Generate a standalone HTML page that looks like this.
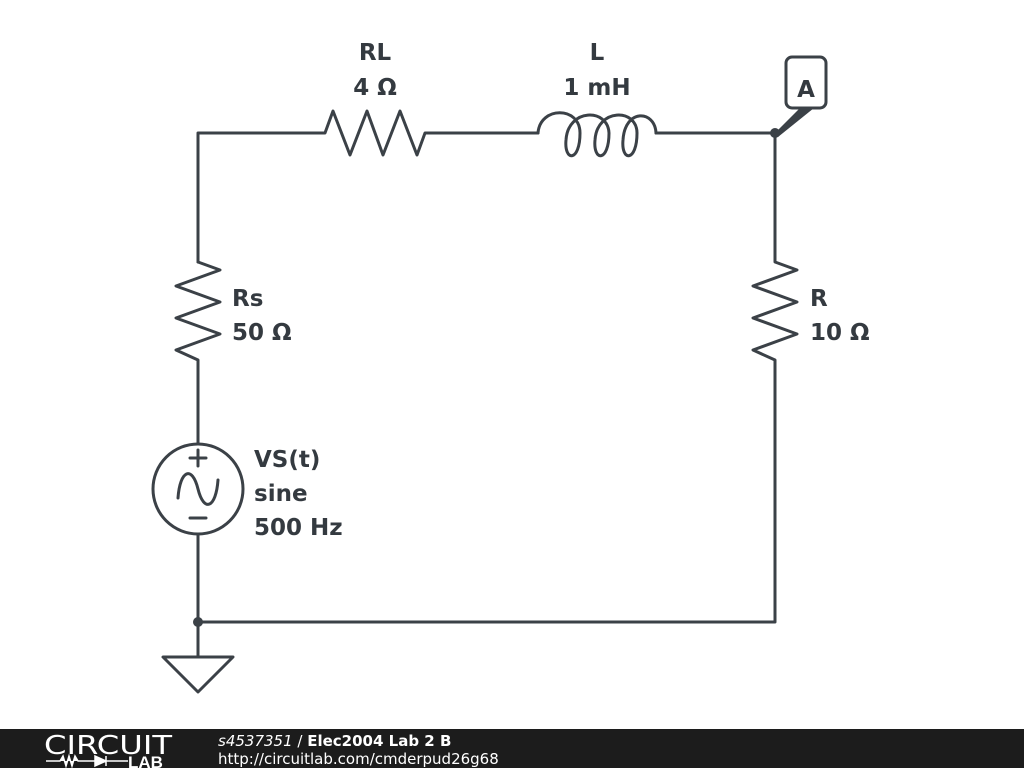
<!DOCTYPE html>
<html><head><meta charset="utf-8"><style>
html,body{margin:0;padding:0;background:#fff;width:1024px;height:768px;overflow:hidden}
svg{display:block}
</style></head><body>
<svg width="1024" height="768" viewBox="0 0 1024 768" xmlns="http://www.w3.org/2000/svg">
<rect width="1024" height="768" fill="#fff"/>
<g fill="none" stroke="#3b4147" stroke-width="3" stroke-linejoin="round" stroke-linecap="round">
<path d="M198,262 V133 H325 L333,111 L350,155 L367,111 L383,155 L400,111 L417,155 L425,133 H538"/>
<path d="M538,133 C540,106 580,106 580,133 C580,162 564,162 566,140 C568,108 608,108 609,133 C609,162 593,162 595,140 C597,108 637,108 637,133 C637,162 621,162 623,140 C625,108 655,110 656,133"/>
<path d="M656,133 H775 V262 L797,270 L753,286 L797,302 L753,318 L797,334 L753,350 L775,360 V622 H198"/>
<path d="M198,262 L220,270 L176,286 L220,302 L176,318 L220,334 L176,350 L198,360 V444"/>
<circle cx="198" cy="489" r="45"/>
<path d="M198,534 V657"/>
<path d="M163,657 H233 L198,692 Z"/>
<path d="M190,458 H206 M198,450 V466 M190,518 H206"/>
<path d="M178,498 C180,470 192,465 198,489 C204,513 216,508 218,480"/>
<rect x="786" y="57" width="40" height="51" rx="6"/>
</g>
<path d="M775,133 L800,108 L814,108 L778,137 Z" fill="#3b4147"/>
<circle cx="775" cy="133" r="5" fill="#3b4147"/>
<circle cx="198" cy="622" r="5" fill="#3b4147"/>
<g font-family="DejaVu Sans, sans-serif" font-weight="bold" font-size="23" fill="#343a40">
<text x="375" y="60" text-anchor="middle">RL</text>
<text x="375" y="95" text-anchor="middle">4 Ω</text>
<text x="597" y="60" text-anchor="middle">L</text>
<text x="597" y="95" text-anchor="middle">1 mH</text>
<text x="806" y="97" text-anchor="middle">A</text>
<text x="232" y="306">Rs</text>
<text x="232" y="340">50 Ω</text>
<text x="810" y="306">R</text>
<text x="810" y="340">10 Ω</text>
<text x="254" y="467">VS(t)</text>
<text x="254" y="501">sine</text>
<text x="254" y="535">500 Hz</text>
</g>
<rect x="0" y="729" width="1024" height="39" fill="#1c1c1c"/>
<text x="44" y="754" font-family="DejaVu Sans, sans-serif" font-size="26" fill="#fff" font-weight="normal" textLength="128" lengthAdjust="spacingAndGlyphs">CIRCUIT</text>
<path d="M46,761 H60 L63,756 L66,766 L69,756 L72,766 L75,756 L78,761 H95 M95,756 V766 L106,761 Z M106,756 V766 M106,761 H128" stroke="#fff" stroke-width="1.5" fill="#fff"/>
<text x="128" y="768" font-family="Liberation Sans, sans-serif" font-weight="bold" font-size="17" fill="#fff">LAB</text>
<text x="218" y="746" font-family="DejaVu Sans, sans-serif" font-size="15" fill="#fff"><tspan font-style="italic">s4537351</tspan> / <tspan font-weight="bold">Elec2004 Lab 2 B</tspan></text>
<text x="218" y="764" font-family="DejaVu Sans, sans-serif" font-size="15" fill="#fff">http://circuitlab.com/cmderpud26g68</text>
</svg>
</body></html>
